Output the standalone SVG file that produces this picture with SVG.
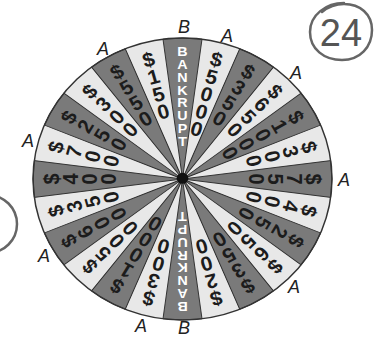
<svg xmlns="http://www.w3.org/2000/svg" width="375" height="339" viewBox="0 0 375 339">
<style>
.lt{fill:#e8e8e8}
.dk{fill:#7a7a7a;stroke:#2a2a2a;stroke-width:0.9}
.n{font-family:"Liberation Sans",Arial,sans-serif;font-size:20px;font-weight:bold;fill:#1c1c1c;text-anchor:middle}
.bk{font-family:"Liberation Sans",Arial,sans-serif;font-size:13.5px;font-weight:bold;fill:#ffffff;text-anchor:middle}
.lab{font-family:"Liberation Sans",Arial,sans-serif;font-size:18px;font-style:italic;fill:#222;text-anchor:middle}
.hand{fill:none;stroke:#666;stroke-width:2.5;stroke-linecap:round}
</style>
<defs>
<path id="sec" d="M0,0 L-18.404,-139.794 A141,141 0 0 1 18.404,-139.794 Z"/>
</defs>
<g id="wheel" transform="translate(182.5,179) scale(1.06,1)">
<circle class="lt" r="141"/>
<g id="dark-sectors">
<use href="#sec" class="dk"/>
<use href="#sec" class="dk" transform="rotate(30)"/>
<use href="#sec" class="dk" transform="rotate(60)"/>
<use href="#sec" class="dk" transform="rotate(90)"/>
<use href="#sec" class="dk" transform="rotate(120)"/>
<use href="#sec" class="dk" transform="rotate(150)"/>
<use href="#sec" class="dk" transform="rotate(180)"/>
<use href="#sec" class="dk" transform="rotate(210)"/>
<use href="#sec" class="dk" transform="rotate(240)"/>
<use href="#sec" class="dk" transform="rotate(270)"/>
<use href="#sec" class="dk" transform="rotate(300)"/>
<use href="#sec" class="dk" transform="rotate(330)"/>
</g>
<circle r="141" fill="none" stroke="#333" stroke-width="1.4"/>
<g id="values">
<text class="bk" x="0 0 0 0 0 0 0 0" y="-123.2 -110.3 -97.4 -84.5 -71.6 -58.7 -45.8 -32.9">BANKRUPT</text>
<text class="n" transform="rotate(15)" x="0 0 0 0 0" y="-116.8 -98.8 -80.8 -62.8 -44.8">$5000</text>
<text class="n" transform="rotate(30)" x="0 0 0 0" y="-116.8 -98.8 -80.8 -62.8">$350</text>
<text class="n" transform="rotate(45)" x="0 0 0 0" y="-116.8 -98.8 -80.8 -62.8">$650</text>
<text class="n" transform="rotate(60)" x="0 0 0 0 0" y="-116.8 -98.8 -80.8 -62.8 -44.8">$1000</text>
<text class="n" transform="rotate(75)" x="0 0 0 0" y="-116.8 -98.8 -80.8 -62.8">$300</text>
<text class="n" transform="rotate(90)" x="0 0 0 0" y="-116.8 -98.8 -80.8 -62.8">$750</text>
<text class="n" transform="rotate(105)" x="0 0 0 0" y="-116.8 -98.8 -80.8 -62.8">$400</text>
<text class="n" transform="rotate(120)" x="0 0 0 0" y="-116.8 -98.8 -80.8 -62.8">$250</text>
<text class="n" transform="rotate(135)" x="0 0 0 0" y="-116.8 -98.8 -80.8 -62.8">$650</text>
<text class="n" transform="rotate(150)" x="0 0 0 0" y="-116.8 -98.8 -80.8 -62.8">$350</text>
<text class="n" transform="rotate(165)" x="0 0 0 0" y="-116.8 -98.8 -80.8 -62.8">$200</text>
<text class="bk" transform="rotate(180)" x="0 0 0 0 0 0 0 0" y="-123.2 -110.3 -97.4 -84.5 -71.6 -58.7 -45.8 -32.9">BANKRUPT</text>
<text class="n" transform="rotate(195)" x="0 0 0 0" y="-116.8 -98.8 -80.8 -62.8">$300</text>
<text class="n" transform="rotate(210)" x="0 0 0 0 0" y="-116.8 -98.8 -80.8 -62.8 -44.8">$1000</text>
<text class="n" transform="rotate(225)" x="0 0 0 0" y="-116.8 -98.8 -80.8 -62.8">$500</text>
<text class="n" transform="rotate(240)" x="0 0 0 0" y="-116.8 -98.8 -80.8 -62.8">$600</text>
<text class="n" transform="rotate(255)" x="0 0 0 0" y="-116.8 -98.8 -80.8 -62.8">$350</text>
<text class="n" transform="rotate(270)" x="0 0 0 0" y="-116.8 -98.8 -80.8 -62.8">$400</text>
<text class="n" transform="rotate(285)" x="0 0 0 0" y="-116.8 -98.8 -80.8 -62.8">$700</text>
<text class="n" transform="rotate(300)" x="0 0 0 0" y="-116.8 -98.8 -80.8 -62.8">$250</text>
<text class="n" transform="rotate(315)" x="0 0 0 0" y="-116.8 -98.8 -80.8 -62.8">$300</text>
<text class="n" transform="rotate(330)" x="0 0 0 0" y="-116.8 -98.8 -80.8 -62.8">$550</text>
<text class="n" transform="rotate(345)" x="0 0 0 0" y="-116.8 -98.8 -80.8 -62.8">$150</text>
</g>
<circle id="hub" cy="-0.7" r="5.5" fill="#111"/>
</g>
<g id="outer-labels">
<text class="lab" x="184" y="33">B</text>
<text class="lab" x="184" y="334">B</text>
<text class="lab" x="103" y="55">A</text>
<text class="lab" x="227" y="42">A</text>
<text class="lab" x="296" y="79">A</text>
<text class="lab" x="344" y="186">A</text>
<text class="lab" x="294" y="293">A</text>
<text class="lab" x="141" y="332">A</text>
<text class="lab" x="44" y="262">A</text>
<text class="lab" x="28" y="147">A</text>
</g>
<g id="problem-number">
<path class="hand" d="M344,3 C326,3 310,15 310,32 C310,49 324,60 342,60 C360,60 372,47 372,30 C372,14 360,4 344,4 C336,4 328,7 322,12"/>
<text x="341" y="46" font-family="'Liberation Sans',Arial,sans-serif" font-size="38" fill="#555" text-anchor="middle">24</text>
</g>
<circle id="left-mark" class="hand" cx="-12" cy="224" r="29" stroke="#777"/>
</svg>
